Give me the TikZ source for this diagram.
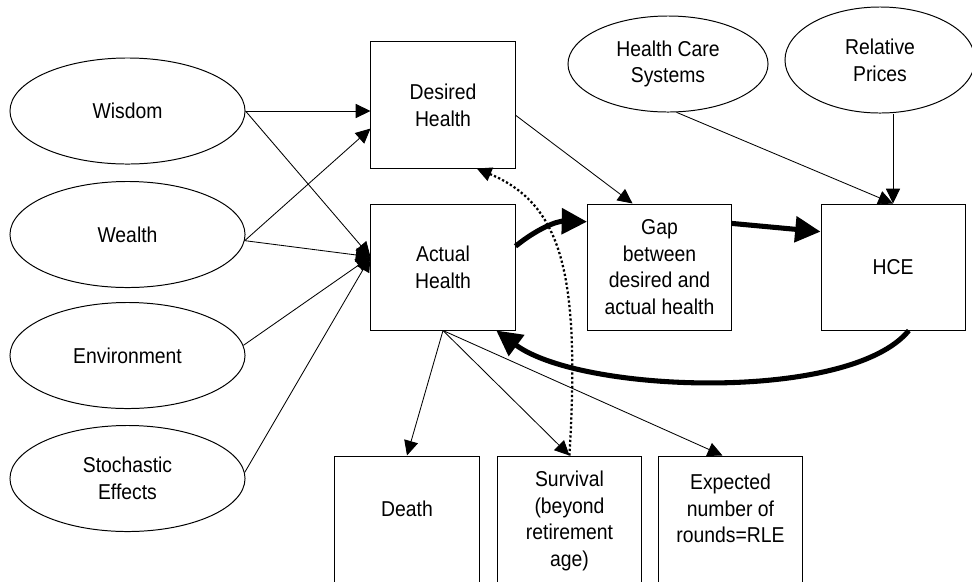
\documentclass[tikz,border=0pt]{standalone}
\usepackage{fontspec}
\setmainfont{Liberation Sans}[FakeStretch=0.9]
\usetikzlibrary{shapes.geometric,arrows.meta}

\begin{document}
\begin{tikzpicture}[x=0.025cm, y=0.025cm,
  font=\fontsize{15.3}{19}\selectfont,
  factor/.style={ellipse, draw, line width=0.7pt, minimum width=5.875cm, minimum height=2.65cm, inner sep=0pt, align=center},
  box/.style={rectangle, draw, line width=0.7pt, minimum width=3.6cm, minimum height=3.15cm, align=center},
  outcome/.style={box, minimum height=3.25cm},
  link/.style={line width=0.6pt, -{Triangle[length=10.5pt, width=10pt]}},
  flow/.style={line width=3.6pt, -{Triangle[length=18pt, width=18pt]}}]
  \useasboundingbox (0,0) rectangle (972,-581);
  % Nodes
  \node (wisdom) [factor] at (127.5,-111) {Wisdom};
  \node (wealth) [factor] at (127.5,-234.5) {Wealth};
  \node (environment) [factor] at (127.5,-355.5) {Environment};
  \node (stochastic) [factor] at (127.5,-478.5) {Stochastic\\Effects};
  \node (hcs) [factor, minimum width=5cm, minimum height=2.4cm] at (668,-64) {Health Care\\Systems};
  \node (prices) [factor, minimum width=4.75cm, minimum height=2.65cm] at (880,-60) {Relative\\Prices};
  \node (desired) [box] at (443,-105) {Desired\\Health};
  \node (actual) [box] at (443,-267) {Actual\\Health};
  \node (gap) [box] at (659.5,-267) {Gap\\between\\desired and\\actual health};
  \node (hce) [box] at (893,-267) {HCE};
  \node (death) [outcome, text depth=18pt] at (407,-521) {Death};
  \node (survival) [outcome] at (569.5,-521) {Survival\\(beyond\\retirement\\age)};
  \node (expected) [outcome, text depth=18pt] at (730.5,-521) {Expected\\number of\\rounds=RLE};
  % Arrows
  \draw [link] (wisdom.east) -- (wisdom.east -| desired.west);
  \draw [link] (wisdom.east) -- (actual.172);
  \draw [link] (wealth.-3) -- (desired.198);
  \draw [link] (wealth.-3) -- (actual.172);
  \draw [link] (environment.5) -- (actual.172);
  \draw [link] (stochastic.3) -- (actual.172);
  \draw [link] (desired.-8) -- (gap.113);
  \draw [link] (hcs.-80) -- (hce.north);
  \draw [link] (prices.south -| hce.north) -- (hce.north);

  \draw [link] (actual.south) -- (death.north);
  \draw [link] (actual.south) -- (survival.north);
  \draw [link] (actual.south) -- (expected.97);

  \draw [flow] (actual.16) to [bend left=20] (gap.148);
  \draw [flow] (gap.31) -- (hce.154);
  \draw [flow] (hce.-76) .. controls +(-59,-72) and +(85,-63) .. (actual.-50);

  \draw [link, line width=1.6pt, dash pattern=on 1.6pt off 1.6pt] (survival.north) .. controls +(10,176) and +(88,-37) .. (desired.-62);
\end{tikzpicture}
\end{document}
